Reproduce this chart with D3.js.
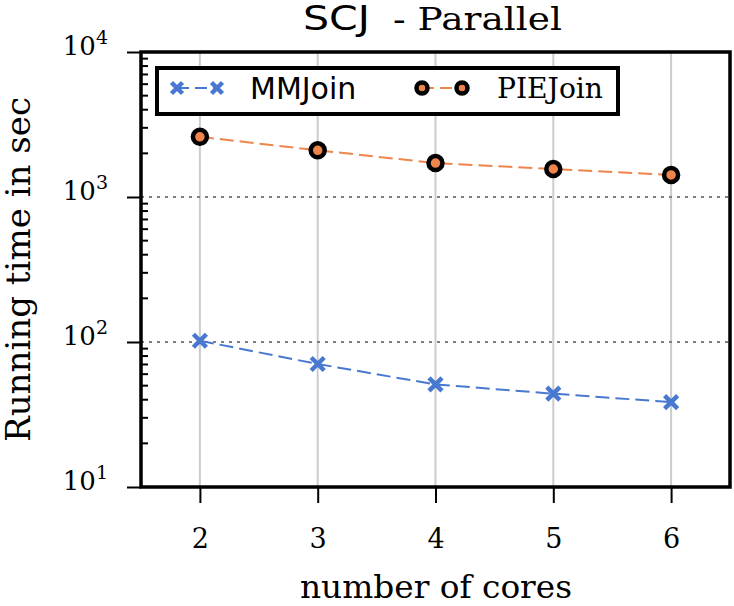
<!DOCTYPE html>
<html><head><meta charset="utf-8">
<script src="https://cdn.jsdelivr.net/npm/d3@7/dist/d3.min.js"></script>
<style>body{margin:0;background:#fff}</style>
</head><body>
<svg id="c" width="734" height="606"></svg>
<script>
const cores = [2, 3, 4, 5, 6];
const mmjoin = [102, 70.5, 51, 44, 38.5];
const piejoin = [2600, 2100, 1715, 1560, 1420];
const yTicks = [10, 100, 1000, 10000];
const yExp = ["1", "2", "3", "4"];
const titleA = "SCJ";
const titleB = "- Parallel";
const xLabel = "number of cores";
const yLabel = "Running time in sec";
const seriesNames = ["MMJoin", "PIEJoin"];

const serif = "DejaVu Serif, Liberation Serif, serif";
const sans = "DejaVu Sans, sans-serif";
const blue = "#4878d0", orange = "#ee854a";

const svg = d3.select("#c");
const L = 141, R = 730, T = 52, B = 487;
const x = d3.scaleLinear().domain([1.5, 6.5]).range([L, R]);
const y = d3.scaleLog().domain([10, 10000]).range([B, T]);

// vertical grid
svg.append("g").selectAll("line").data(cores).join("line")
  .attr("x1", d => x(d)).attr("x2", d => x(d)).attr("y1", T).attr("y2", B)
  .attr("stroke", "#cccccc").attr("stroke-width", 2);
// horizontal dotted grid
svg.append("g").selectAll("line").data([100, 1000]).join("line")
  .attr("x1", L).attr("x2", R).attr("y1", d => y(d)).attr("y2", d => y(d))
  .attr("stroke", "#808080").attr("stroke-width", 2).attr("stroke-dasharray", "3,5");

// minor y ticks (inside)
const minors = [];
for (let e = 1; e < 4; e++) for (let m = 2; m <= 9; m++) minors.push(m * Math.pow(10, e));
svg.append("g").selectAll("line").data(minors).join("line")
  .attr("x1", L).attr("x2", L + 7).attr("y1", d => y(d)).attr("y2", d => y(d))
  .attr("stroke", "#000").attr("stroke-width", 2);

// major y ticks (outside)
const yAxis = svg.append("g").attr("transform", `translate(${L},0)`)
  .call(d3.axisLeft(y).tickValues(yTicks).tickSize(14).tickFormat(""));
yAxis.select(".domain").remove();
yAxis.selectAll(".tick line").attr("stroke-width", 2);
yTicks.forEach((v, i) => {
  const t = svg.append("text").attr("x", 108).attr("y", y(v) + 3)
    .attr("text-anchor", "end").attr("font-family", serif).attr("font-size", 26);
  t.append("tspan").text("10");
  t.append("tspan").attr("dy", -11).attr("font-size", 19).text(yExp[i]);
});

// x axis ticks
const xAxis = svg.append("g").attr("transform", `translate(0,${B})`)
  .call(d3.axisBottom(x).tickValues(cores).tickSize(16).tickFormat(d3.format("d")));
xAxis.select(".domain").remove();
xAxis.selectAll(".tick line").attr("stroke-width", 2);
xAxis.selectAll(".tick text").attr("font-family", serif).attr("font-size", 27)
  .attr("fill", "#000").attr("dy", 0).attr("y", 61);

// frame
svg.append("rect").attr("x", L).attr("y", T).attr("width", R - L).attr("height", B - T)
  .attr("fill", "none").attr("stroke", "#000").attr("stroke-width", 3.5);

// lines
const line = d3.line().x((d, i) => x(cores[i])).y(d => y(d));
svg.append("path").datum(mmjoin).attr("d", line).attr("fill", "none")
  .attr("stroke", blue).attr("stroke-width", 2).attr("stroke-dasharray", "14,6");
svg.append("path").datum(piejoin).attr("d", line).attr("fill", "none")
  .attr("stroke", orange).attr("stroke-width", 2).attr("stroke-dasharray", "14,6");

function xMark(g, cx, cy, s) {
  g.append("path").attr("d", `M${cx - s},${cy - s}L${cx + s},${cy + s}M${cx - s},${cy + s}L${cx + s},${cy - s}`)
    .attr("stroke", blue).attr("stroke-width", 4.5).attr("fill", "none");
}
function oMark(g, cx, cy, r) {
  g.append("circle").attr("cx", cx).attr("cy", cy).attr("r", r)
    .attr("fill", orange).attr("stroke", "#000").attr("stroke-width", 4.5);
}
const mk = svg.append("g");
mmjoin.forEach((v, i) => xMark(mk, x(cores[i]), y(v), 6.5));
piejoin.forEach((v, i) => oMark(mk, x(cores[i]), y(v), 7));

// legend
const lg = svg.append("g");
lg.append("rect").attr("x", 157).attr("y", 68).attr("width", 461).attr("height", 46)
  .attr("fill", "#fff").attr("stroke", "#000").attr("stroke-width", 4);
lg.append("line").attr("x1", 177).attr("x2", 217).attr("y1", 88).attr("y2", 88)
  .attr("stroke", blue).attr("stroke-width", 2).attr("stroke-dasharray", "12,6");
xMark(lg, 177, 88, 5.5); xMark(lg, 217, 88, 5.5);
lg.append("text").attr("x", 250).attr("y", 99).attr("font-family", sans).attr("font-size", 30)
  .text(seriesNames[0]);
lg.append("line").attr("x1", 422).attr("x2", 462).attr("y1", 88).attr("y2", 88)
  .attr("stroke", orange).attr("stroke-width", 2).attr("stroke-dasharray", "12,6");
oMark(lg, 422, 88, 5.5); oMark(lg, 462, 88, 5.5);
lg.append("text").attr("x", 497).attr("y", 98).attr("font-family", serif).attr("font-size", 28.5)
  .attr("textLength", 106).attr("lengthAdjust", "spacingAndGlyphs").text(seriesNames[1]);

// title & labels
svg.append("text").attr("x", 303).attr("y", 30).attr("font-family", sans).attr("font-size", 33)
  .attr("textLength", 67).attr("lengthAdjust", "spacingAndGlyphs").text(titleA);
svg.append("text").attr("x", 393).attr("y", 30).attr("font-family", serif).attr("font-size", 31.5)
  .attr("textLength", 169).attr("lengthAdjust", "spacingAndGlyphs").text(titleB);
svg.append("text").attr("x", 300).attr("y", 598)
  .attr("font-family", serif).attr("font-size", 32.5)
  .attr("textLength", 272).attr("lengthAdjust", "spacingAndGlyphs").text(xLabel);
svg.append("text").attr("transform", `translate(30,442) rotate(-90)`)
  .attr("font-family", serif).attr("font-size", 33)
  .attr("textLength", 345).attr("lengthAdjust", "spacingAndGlyphs").text(yLabel);
</script>
</body></html>
